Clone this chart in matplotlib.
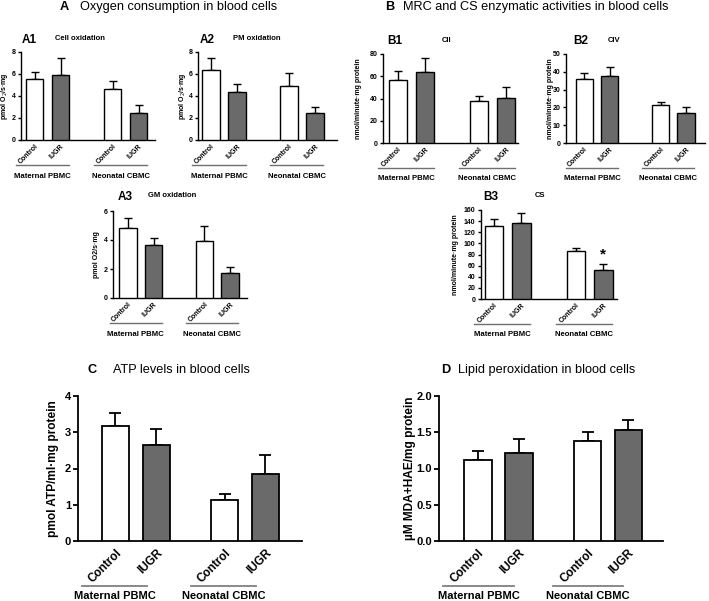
import matplotlib
matplotlib.use('Agg')
import matplotlib.pyplot as plt
from matplotlib.transforms import blended_transform_factory
import numpy as np

plt.rcParams['font.family'] = ['Liberation Sans', 'DejaVu Sans']

W, H = 709, 601
fig = plt.figure(figsize=(W / 100, H / 100), dpi=100)

# ---------------- data ----------------
tick_labels = ['Control', 'IUGR', 'Control', 'IUGR']
group_names = ['Maternal PBMC', 'Neonatal CBMC']

a1_mean = [5.52, 5.92, 4.6, 2.47]
a1_err = [0.63, 1.5, 0.76, 0.67]
a2_mean = [6.38, 4.33, 4.88, 2.43]
a2_err = [1.1, 0.72, 1.2, 0.6]
a3_mean = [4.86, 3.64, 3.9, 1.73]
a3_err = [0.68, 0.5, 1.04, 0.44]
b1_mean = [56.5, 63.8, 37.5, 40.2]
b1_err = [8.0, 13.0, 5.0, 10.4]
b2_mean = [35.8, 37.8, 21.2, 17.0]
b2_err = [3.5, 4.8, 1.9, 3.3]
b3_mean = [132, 136, 85.5, 52.5]
b3_err = [11, 18, 6.5, 10]
c_mean = [3.17, 2.64, 1.13, 1.84]
c_err = [0.37, 0.45, 0.18, 0.53]
d_mean = [1.12, 1.22, 1.385, 1.53]
d_err = [0.12, 0.19, 0.12, 0.145]

pos_small = [0, 1, 3, 4]
pos_big = [0, 1, 2.67, 3.66]

WHITE = 'white'
GREY = '#6a6a6a'


def px_rect(x0, y0, x1, y1):
    return [x0 / W, 1 - y1 / H, (x1 - x0) / W, (y1 - y0) / H]


def panel(rect, pos, mean, err, ylim, yticks, yticklabels, ylabel, xlim,
          ylab_dx, fs_tick, fs_ylab, fs_grp, lw, cap, bw,
          ul_dy, lab_dy, ul_a, ul_b, tickpad, ticklen, ul_color='#707070',
          fs_xtick=None):
    x0, y0, x1, y1 = rect
    hpx = y1 - y0
    wpx = x1 - x0
    ax = fig.add_axes(px_rect(*rect))
    colors = [WHITE, GREY, WHITE, GREY]
    ax.bar(pos, mean, width=bw, color=colors, edgecolor='black',
           linewidth=lw, zorder=3)
    ax.errorbar(pos, mean, yerr=[np.zeros(len(err)), err], fmt='none',
                ecolor='black', elinewidth=lw, capsize=cap, capthick=lw,
                zorder=2)
    ax.set_xlim(*xlim)
    ax.set_ylim(*ylim)
    for s in ['top', 'right']:
        ax.spines[s].set_visible(False)
    for s in ['left', 'bottom']:
        ax.spines[s].set_linewidth(lw)
    ax.set_yticks(yticks)
    ax.set_yticklabels(yticklabels, fontsize=fs_tick, fontweight='bold')
    ax.tick_params(axis='y', direction='out', length=ticklen, width=lw,
                   pad=1.5)
    ax.set_xticks(pos)
    ax.set_xticklabels(tick_labels, rotation=45, ha='right', va='top',
                       rotation_mode='anchor',
                       fontsize=fs_xtick if fs_xtick else fs_tick,
                       fontweight='bold')
    ax.tick_params(axis='x', length=0, pad=tickpad)
    ax.set_ylabel(ylabel, fontsize=fs_ylab, fontweight='bold')
    ax.yaxis.label.set_verticalalignment('center')
    ax.yaxis.set_label_coords(-ylab_dx / wpx, 0.5)
    trans = blended_transform_factory(ax.transData, ax.transAxes)
    groups = [(pos[0], pos[1]), (pos[2], pos[3])]
    for (p0, p1), name in zip(groups, group_names):
        xa, xb = p0 - ul_a, p1 + ul_b
        ax.plot([xa, xb], [-ul_dy / hpx] * 2, transform=trans,
                clip_on=False, color=ul_color, lw=lw)
        ax.text((xa + xb) / 2, -lab_dy / hpx, name, transform=trans,
                ha='center', va='center', fontsize=fs_grp,
                fontweight='bold')
    return ax


def small(rect, mean, err, ylim, yticks, ylabel, xlim, ylab_dx):
    lbls = [str(t) for t in yticks]
    return panel(rect, pos_small, mean, err, ylim, yticks, lbls, ylabel, xlim,
                 ylab_dx, fs_tick=5, fs_ylab=5, fs_grp=5.6, lw=1.0, cap=3.2,
                 bw=0.68, ul_dy=25, lab_dy=36, ul_a=0.72, ul_b=0.33,
                 tickpad=2, ticklen=2.5)


axA1 = small((21, 52, 155, 140), a1_mean, a1_err, (0, 8), [0, 2, 4, 6, 8],
             'pmol O$_2$/s·mg', (-0.52, 4.63), 16)
axA2 = small((198, 52, 337, 140), a2_mean, a2_err, (0, 8), [0, 2, 4, 6, 8],
             'pmol O$_2$/s·mg', (-0.5, 4.85), 16)
axB1 = small((383, 54, 518, 143), b1_mean, b1_err, (0, 80),
             [0, 20, 40, 60, 80], 'nmol/minute·mg protein', (-0.55, 4.45), 25)
axB2 = small((566, 54, 705, 143), b2_mean, b2_err, (0, 50),
             [0, 10, 20, 30, 40, 50], 'nmol/minute·mg protein',
             (-0.72, 4.75), 16)
axA3 = small((113, 211, 247, 298), a3_mean, a3_err, (0, 6), [0, 2, 4, 6],
             'pmol O2/s·mg', (-0.59, 4.67), 16)
axB3 = small((481, 210, 617, 299), b3_mean, b3_err, (0, 160),
             list(range(0, 161, 20)), 'nmol/minute·mg protein',
             (-0.48, 4.5), 25)
axB3.text(pos_small[3], 80, '*', ha='center', va='center', fontsize=11,
          fontweight='bold')

axC = panel((78, 396, 302, 541), pos_big, c_mean, c_err, (0, 4),
            [0, 1, 2, 3, 4], ['0', '1', '2', '3', '4'],
            'pmol ATP/ml·mg protein', (-0.91, 4.55), 25,
            fs_tick=8, fs_ylab=8.6, fs_grp=8, lw=1.3, cap=4.6, bw=0.66,
            ul_dy=45, lab_dy=55, ul_a=0.82, ul_b=-0.22, tickpad=4,
            ticklen=3.5, ul_color='#808080', fs_xtick=8.5)
axD = panel((439, 396, 663, 541), pos_big, d_mean, d_err, (0, 2.0),
            [0, 0.5, 1.0, 1.5, 2.0], ['0.0', '0.5', '1.0', '1.5', '2.0'],
            'µM MDA+HAE/mg protein', (-0.95, 4.51), 29,
            fs_tick=8, fs_ylab=8.6, fs_grp=8, lw=1.3, cap=4.6, bw=0.66,
            ul_dy=45, lab_dy=55, ul_a=0.85, ul_b=-0.13, tickpad=4,
            ticklen=3.5, ul_color='#808080', fs_xtick=8.5)


def ftext(x, y, s, **kw):
    fig.text(x / W, 1 - y / H, s, va='center', **kw)


# section titles
ftext(60, 7, 'A', fontsize=9.2, fontweight='bold')
ftext(80, 7, 'Oxygen consumption in blood cells', fontsize=9.2)
ftext(385, 7, 'B', fontsize=9.2, fontweight='bold')
ftext(403, 7, 'MRC and CS enzymatic activities in blood cells', fontsize=9.2)
ftext(88, 370, 'C', fontsize=9.2, fontweight='bold')
ftext(113, 370, 'ATP levels in blood cells', fontsize=9.2)
ftext(441, 370, 'D', fontsize=9.2, fontweight='bold')
ftext(458, 370, 'Lipid peroxidation in blood cells', fontsize=9.2)

# panel labels
for x, y, lab, xs, sub in [(22, 40, 'A1', 55, 'Cell oxidation'),
                           (200, 40, 'A2', 233, 'PM oxidation'),
                           (387, 41, 'B1', 442, 'CII'),
                           (573, 41, 'B2', 608, 'CIV'),
                           (118, 197, 'A3', 148, 'GM oxidation'),
                           (483, 197, 'B3', 535, 'CS')]:
    ftext(x, y, lab, fontsize=8.5, fontweight='bold')
    ftext(xs, y - 1, sub, fontsize=5.5, fontweight='bold')

fig.savefig('out.png', dpi=100)
